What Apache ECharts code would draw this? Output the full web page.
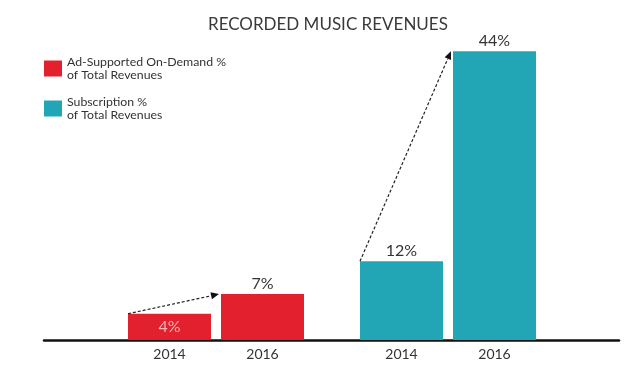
<!DOCTYPE html>
<html>
<head>
<meta charset="utf-8">
<script src="https://cdn.jsdelivr.net/npm/echarts@6/dist/echarts.min.js"></script>
<style>html,body{margin:0;padding:0;background:#fff}#c{width:640px;height:392px}</style>
</head>
<body>
<div id="c"></div>
<script>
const titleText = 'RECORDED MUSIC REVENUES';
const years = ['2014', '2016'];
const adSupportedValues = [4, 7];
const subscriptionValues = [12, 44];
const seriesNames = ['Ad-Supported On-Demand %', 'Subscription %'];
const legendSecondLine = 'of Total Revenues';

const RED = '#e2202e';
const TEAL = '#22a6b5';
const FONT = 'Lato, "Open Sans", sans-serif';

const chart = echarts.init(document.getElementById('c'), null, {renderer: 'canvas'});

function barData(values, insideIndex) {
  return values.map((v, i) => i === insideIndex
    ? {value: v, label: {position: 'inside', color: '#f7b3b3'}}
    : v);
}

const commonX = {
  type: 'category', data: years,
  axisLine: {show: false}, axisTick: {show: false},
  axisLabel: {color: '#333', fontSize: 14, fontFamily: FONT, margin: 7}
};
const commonY = {type: 'value', min: 0, max: 50.3, show: false};

const option = {
  backgroundColor: '#fff',
  animation: false,
  title: {
    text: titleText, left: 203, top: 11,
    textStyle: {fontSize: 17, fontWeight: 'normal', color: '#3a3a3a', fontFamily: FONT}
  },
  legend: {
    orient: 'vertical', left: 39, top: 51, itemGap: 15,
    itemWidth: 18, itemHeight: 16, icon: 'rect',
    data: seriesNames,
    formatter: n => n + '\n' + legendSecondLine,
    textStyle: {fontSize: 12.3, color: '#333', fontFamily: FONT, lineHeight: 12.5}
  },
  grid: [
    {left: 123, width: 186, top: 10, height: 330},
    {left: 355, width: 186, top: 10, height: 330},
    {left: 44, width: 575, top: 10, height: 330}
  ],
  xAxis: [
    Object.assign({gridIndex: 0}, commonX),
    Object.assign({gridIndex: 1}, commonX),
    {gridIndex: 2, type: 'category', data: [''], axisTick: {show: false},
     axisLabel: {show: false}, axisLine: {lineStyle: {color: '#111', width: 2.5}}}
  ],
  yAxis: [
    Object.assign({gridIndex: 0}, commonY),
    Object.assign({gridIndex: 1}, commonY),
    Object.assign({gridIndex: 2}, commonY)
  ],
  series: [
    {
      name: seriesNames[0], type: 'bar', xAxisIndex: 0, yAxisIndex: 0,
      barWidth: 83, itemStyle: {color: RED},
      data: barData(adSupportedValues, 0),
      label: {show: true, position: 'top', formatter: '{c}%', color: '#333', fontSize: 16, fontFamily: FONT, distance: 2}
    },
    {
      name: seriesNames[1], type: 'bar', xAxisIndex: 1, yAxisIndex: 1,
      barWidth: 83, itemStyle: {color: TEAL},
      data: subscriptionValues,
      label: {show: true, position: 'top', formatter: '{c}%', color: '#333', fontSize: 16, fontFamily: FONT, distance: 2}
    }
  ]
};
chart.setOption(option);

function arrow(p0, p1) {
  const ang = Math.atan2(p1[1] - p0[1], p1[0] - p0[0]);
  const L = 8, W = 3.5;
  const bx = p1[0] - L * Math.cos(ang), by = p1[1] - L * Math.sin(ang);
  const nx = -Math.sin(ang), ny = Math.cos(ang);
  return [
    {type: 'line', shape: {x1: p0[0], y1: p0[1], x2: bx, y2: by},
     style: {stroke: '#222', lineWidth: 1.2, lineDash: [3, 2]}, z: 10},
    {type: 'polygon', shape: {points: [[p1[0], p1[1]], [bx + nx * W, by + ny * W], [bx - nx * W, by - ny * W]]},
     style: {fill: '#111'}, z: 10}
  ];
}

function leftTop(gridIdx, values) {
  const a = chart.convertToPixel({xAxisIndex: gridIdx, yAxisIndex: gridIdx}, [years[0], values[0]]);
  const b = chart.convertToPixel({xAxisIndex: gridIdx, yAxisIndex: gridIdx}, [years[1], values[1]]);
  return [[a[0] - 41.5, a[1]], [b[0] - 43.5, b[1]]];
}
const r = leftTop(0, adSupportedValues);
const t = leftTop(1, subscriptionValues);
chart.setOption({graphic: [].concat(arrow(r[0], r[1]), arrow(t[0], t[1]))});
</script>
</body>
</html>
